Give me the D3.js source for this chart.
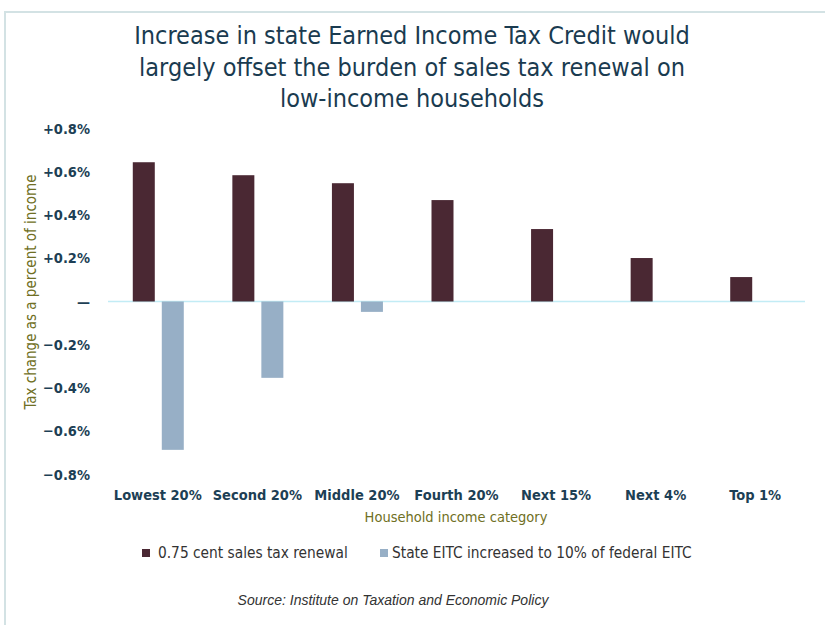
<!DOCTYPE html>
<html><head><meta charset="utf-8">
<script src="https://cdn.jsdelivr.net/npm/d3@7"></script>
<style>body{margin:0;background:#fff}svg{display:block}</style>
</head><body>
<svg id="chart" width="825" height="625"></svg>
<script>
const categories = ["Lowest 20%","Second 20%","Middle 20%","Fourth 20%","Next 15%","Next 4%","Top 1%"];
const seriesNames = ["0.75 cent sales tax renewal","State EITC increased to 10% of federal EITC"];
const salesTax = [0.644, 0.584, 0.547, 0.469, 0.335, 0.201, 0.113];
const eitc = [-0.686, -0.353, -0.048, 0, 0, 0, 0];
const yTicks = [0.8, 0.6, 0.4, 0.2, 0, -0.2, -0.4, -0.6, -0.8];
const tickLabels = ["+0.8%","+0.6%","+0.4%","+0.2%","\u2014","\u22120.2%","\u22120.4%","\u22120.6%","\u22120.8%"];
const titleLines = ["Increase in state Earned Income Tax Credit would","largely offset the burden of sales tax renewal on","low-income households"];
const colors = ["#4a2833","#97afc6"];

const svg = d3.select("#chart");
const font = "'DejaVu Sans Condensed','DejaVu Sans',sans-serif";
const dark = "#1d3f55";

// frame
svg.append("line").attr("x1",4).attr("x2",825).attr("y1",12).attr("y2",12).attr("stroke","#d3e2e4").attr("stroke-width",2);
svg.append("line").attr("x1",5).attr("x2",5).attr("y1",11).attr("y2",625).attr("stroke","#d3e2e4").attr("stroke-width",2);

const x = d3.scaleBand().domain(categories).range([108, 805]).padding(0);
const y = d3.scaleLinear().domain([-0.8, 0.8]).range([474.5, 128.5]);

// title
svg.append("g").selectAll("text").data(titleLines).join("text")
  .attr("x", 412).attr("y",(d,i)=>44+i*31.5).attr("text-anchor","middle")
  .attr("font-family",font).attr("font-size",25).attr("fill","#1a3b50").text(d=>d);

// y axis labels
const yAxis = d3.axisLeft(y).tickValues(yTicks).tickSize(0).tickPadding(0)
  .tickFormat((d,i)=>tickLabels[i]);
const ga = svg.append("g").attr("transform","translate(90,0)").call(yAxis);
ga.select(".domain").remove();
ga.selectAll("text").attr("font-family",font).attr("font-size",14.5).attr("font-weight","bold").attr("fill",dark);

// zero line
svg.append("line").attr("x1",108).attr("x2",805).attr("y1",y(0)).attr("y2",y(0)).attr("stroke","#c2ecf5").attr("stroke-width",1.5);

// bars
const bw = 22, gap = 7;
const data = categories.map((c,i)=>({c, v:[salesTax[i], eitc[i]]}));
const groups = svg.append("g").selectAll("g").data(data).join("g")
  .attr("transform",d=>`translate(${x(d.c)+x.bandwidth()/2},0)`);
groups.selectAll("rect").data(d=>d.v.map((v,k)=>({v,k}))).join("rect")
  .filter(d=>d.v!==0)
  .attr("x",d=>d.k===0 ? -bw-gap/2+0.5 : gap/2+0.5)
  .attr("width",bw)
  .attr("y",d=>y(Math.max(0,d.v)))
  .attr("height",d=>Math.abs(y(d.v)-y(0)))
  .attr("fill",d=>colors[d.k]);

// x axis labels
const xAxis = d3.axisBottom(x).tickSize(0).tickPadding(0);
const gx = svg.append("g").attr("transform","translate(0,500)").call(xAxis);
gx.select(".domain").remove();
gx.selectAll("text").attr("dy",0).attr("font-family",font).attr("font-size",14.5).attr("font-weight","bold").attr("fill",dark);

// axis titles
svg.append("text").attr("x",456).attr("y",522).attr("text-anchor","middle")
  .attr("font-family",font).attr("font-size",14.5).attr("fill","#6f6f24").text("Household income category");
svg.append("text").attr("transform","translate(36,292) rotate(-90)").attr("text-anchor","middle")
  .attr("font-family",font).attr("font-size",15).attr("fill","#6f6f24").text("Tax change as a percent of income");

// legend
const legX = [142, 380];
const lg = svg.append("g").selectAll("g").data(seriesNames).join("g")
  .attr("transform",(d,i)=>`translate(${legX[i]},553)`);
lg.append("rect").attr("x",0).attr("y",-4).attr("width",8).attr("height",8).attr("fill",(d,i)=>colors[i]);
lg.append("text").attr("x",(d,i)=>i===0?16:12).attr("y",0).attr("dy","0.35em")
  .attr("font-family",font).attr("font-size",15.3).attr("fill","#333").text(d=>d);

// source
svg.append("text").attr("x",393).attr("y",605).attr("text-anchor","middle")
  .attr("font-family","'Liberation Sans',Arial,sans-serif").attr("font-style","italic")
  .attr("font-size",14).attr("fill","#333").text("Source: Institute on Taxation and Economic Policy");
</script>
</body></html>
